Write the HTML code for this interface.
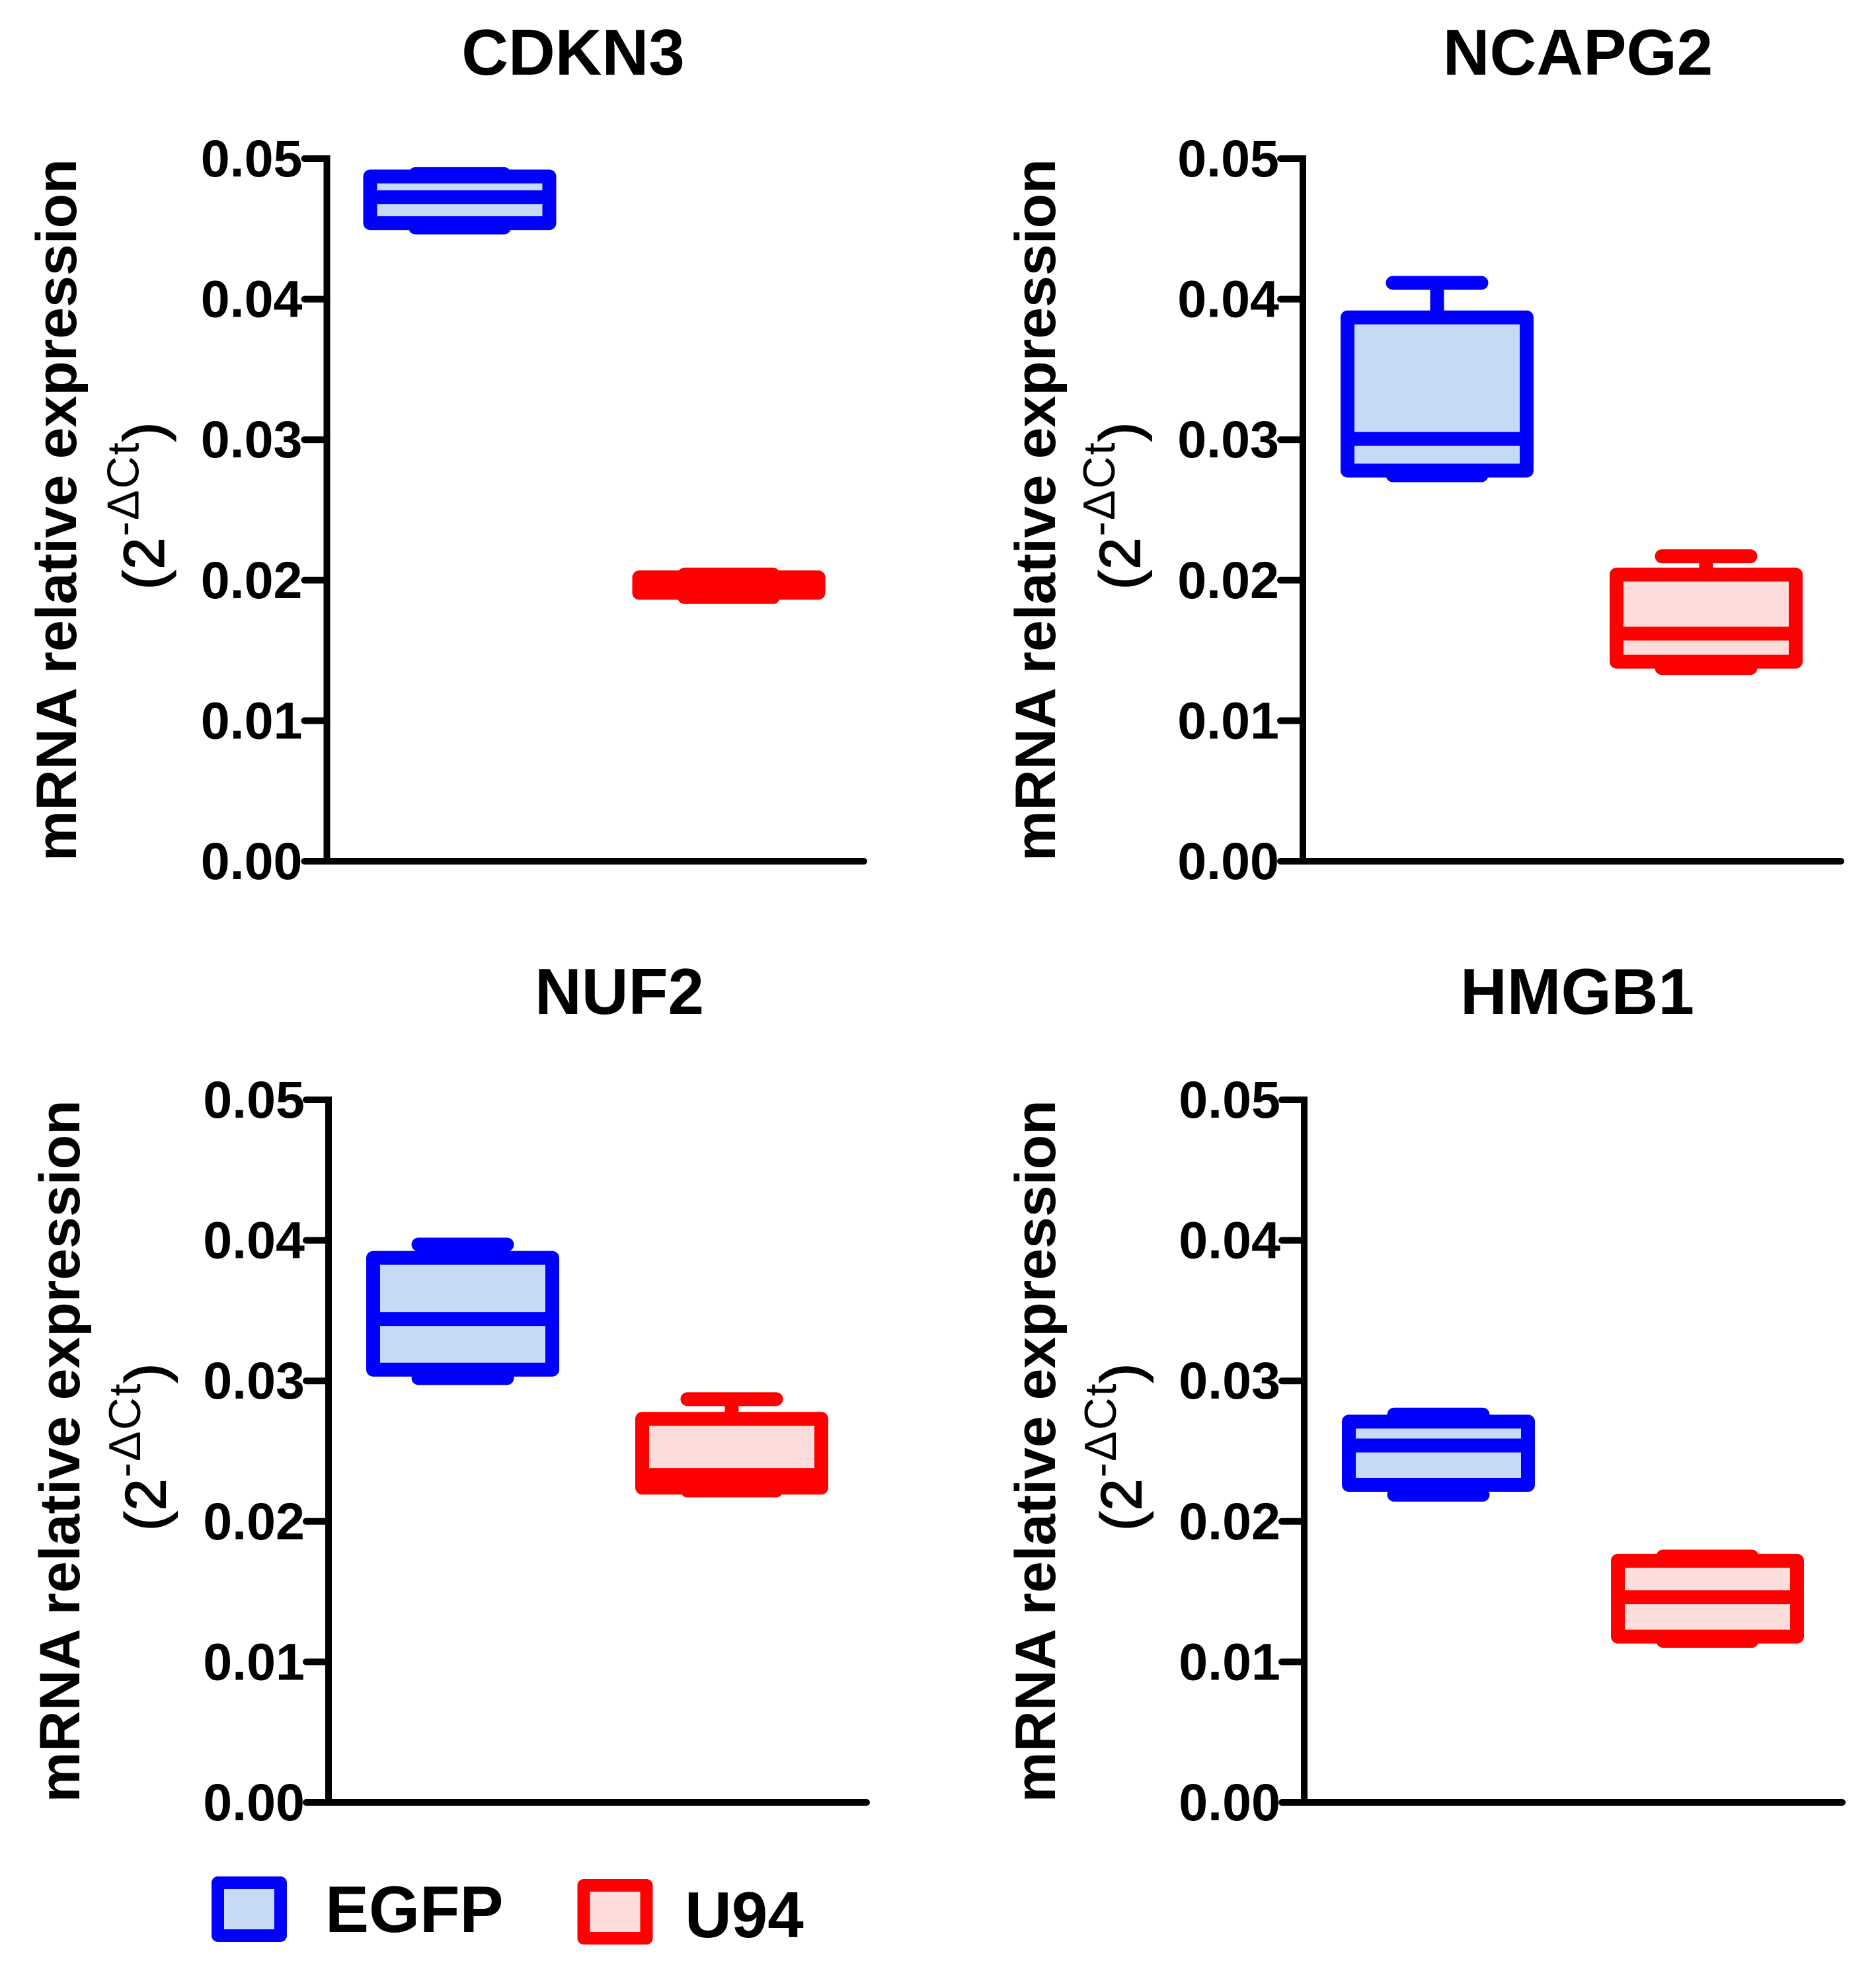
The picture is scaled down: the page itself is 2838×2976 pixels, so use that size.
<!DOCTYPE html>
<html>
<head>
<meta charset="utf-8">
<style>
html,body{margin:0;padding:0;background:#fff;}
svg{display:block;}
text{font-family:"Liberation Sans",sans-serif;fill:#000;}
</style>
</head>
<body>
<svg id="figure" xmlns="http://www.w3.org/2000/svg" width="2838" height="2976" viewBox="0 0 2838 2976">
<rect x="0" y="0" width="2838" height="2976" fill="#ffffff"/>
<g id="panels"></g>
<g>
<g>
<rect x="329.5" y="2848.5" width="95" height="80" fill="#c6daf6" stroke="#0000ff" stroke-width="19" stroke-linejoin="round"/>
<text x="492" y="2923" font-size="99" font-weight="700">EGFP</text>
</g>
<g>
<rect x="883" y="2852.5" width="95" height="80" fill="#fddcdc" stroke="#ff0000" stroke-width="19" stroke-linejoin="round"/>
<text x="1036" y="2931" font-size="98" font-weight="700">U94</text>
</g>
</g>
</svg>
<script>
// Data. Outer index: gene panel. Inner index: group.
const genes = ["CDKN3", "NCAPG2", "NUF2", "HMGB1"];
const groups = ["EGFP", "U94"];
const tickValues = [0, 0.01, 0.02, 0.03, 0.04, 0.05];
const tickLabels = ["0.00", "0.01", "0.02", "0.03", "0.04", "0.05"];
const whiskerHigh = [[0.0489, 0.0204], [0.04116, 0.0217], [0.0397, 0.0287], [0.0276, 0.0175]];
const quartile3 = [[0.04873, 0.0202], [0.0387, 0.0204], [0.03875, 0.0273], [0.0271, 0.0172]];
const medians = [[0.04725, 0.0197], [0.03005, 0.0162], [0.0344, 0.0233], [0.0254, 0.0146]];
const quartile1 = [[0.04541, 0.0191], [0.0278, 0.0142], [0.0308, 0.0224], [0.0226, 0.0118]];
const whiskerLow = [[0.0451, 0.0188], [0.02747, 0.01375], [0.0302, 0.0222], [0.0219, 0.0115]];

// Page layout (not data).
const layout = [
  {axisX: 494.5, baseY: 1303, rightX: 1307, titleX: 867, titleY: 113, labelX: 115, boxShift: -2, tickShift: -1},
  {axisX: 1971, baseY: 1303, rightX: 2785, titleX: 2387, titleY: 113, labelX: 1596, boxShift: 0, tickShift: 0},
  {axisX: 497, baseY: 2727, rightX: 1311, titleX: 937, titleY: 1534, labelX: 120, boxShift: 0, tickShift: 0},
  {axisX: 1973, baseY: 2727, rightX: 2787, titleX: 2386, titleY: 1534, labelX: 1596, boxShift: 0, tickShift: 0}
];
const groupOffsets = [203, 610];
const groupStrokes = ["#0000ff", "#ff0000"];
const groupFills = ["#c6daf6", "#fddcdc"];
const plotHeight = 1063;
const yMax = 0.05;
const NS = "http://www.w3.org/2000/svg";
const root = document.getElementById("panels");

function shape(parent, tag, attrs) {
  const el = document.createElementNS(NS, tag);
  for (const k in attrs) el.setAttribute(k, attrs[k]);
  parent.appendChild(el);
  return el;
}
function kebab(s) { return s.toLowerCase(); }

genes.forEach(function (gene, p) {
  const L = layout[p];
  const yScale = function (v) { return L.baseY - (v / yMax) * plotHeight; };
  const g = shape(root, "g", {});
  
  

  const title = shape(g, "text", {x: L.titleX, y: L.titleY, "text-anchor": "middle", "font-size": 98, "font-weight": 700});
  
  
  title.textContent = gene;

  const yTitle = shape(g, "text", {transform: "translate(" + L.labelX + "," + L.baseY + ") rotate(-90)", "font-size": 86, "font-weight": 700});
  
  
  yTitle.textContent = "mRNA relative expression";

  const unit = shape(g, "text", {transform: "translate(" + (L.axisX - 247) + "," + (L.baseY - 411) + ") rotate(-90)", "font-size": 86, "letter-spacing": 2});
  
  
  const t1 = shape(unit, "tspan", {stroke: "#000", "stroke-width": 2});
  t1.textContent = "(2";
  const t2 = shape(unit, "tspan", {dy: -38, "font-size": 68});
  t2.textContent = "-\u0394Ct";
  const t3 = shape(unit, "tspan", {dy: 38, stroke: "#000", "stroke-width": 2});
  t3.textContent = ")";

  const yAxis = shape(g, "line", {x1: L.axisX, x2: L.axisX, y1: yScale(yMax) - 5, y2: L.baseY, stroke: "#000", "stroke-width": 10});
  
  

  const xAxis = shape(g, "line", {x1: L.axisX, x2: L.rightX, y1: L.baseY, y2: L.baseY, stroke: "#000", "stroke-width": 10, "stroke-linecap": "round"});
  
  

  tickValues.forEach(function (v, i) {
    const tick = shape(g, "line", {x1: L.axisX - 34, x2: L.axisX, y1: yScale(v), y2: yScale(v), stroke: "#000", "stroke-width": 10, "stroke-linecap": "round"});
    
    
    const lab = shape(g, "text", {x: L.axisX - 36 + L.tickShift, y: yScale(v) + 27, "text-anchor": "end", "font-size": 79, "font-weight": 700});
    
    
    lab.textContent = tickLabels[i];
  });

  groups.forEach(function (group, s) {
    const cx = L.axisX + groupOffsets[s] + L.boxShift;
    const col = groupStrokes[s];
    const box = shape(g, "g", {stroke: col, "stroke-width": 21});
    
    

    const stem = shape(box, "line", {x1: cx, x2: cx, y1: yScale(whiskerLow[p][s]), y2: yScale(whiskerHigh[p][s])});
    
    

    const capHigh = shape(box, "line", {x1: cx - 67, x2: cx + 67, y1: yScale(whiskerHigh[p][s]), y2: yScale(whiskerHigh[p][s]), "stroke-linecap": "round"});
    
    

    const capLow = shape(box, "line", {x1: cx - 67, x2: cx + 67, y1: yScale(whiskerLow[p][s]), y2: yScale(whiskerLow[p][s]), "stroke-linecap": "round"});
    
    

    const rect = shape(box, "rect", {x: cx - 135.5, y: yScale(quartile3[p][s]), width: 271, height: yScale(quartile1[p][s]) - yScale(quartile3[p][s]), fill: groupFills[s], "stroke-linejoin": "round"});
    
    

    const med = shape(box, "line", {x1: cx - 135, x2: cx + 135, y1: yScale(medians[p][s]), y2: yScale(medians[p][s]), "stroke-width": 21});
    
    
  });
});
</script>
</body>
</html>
